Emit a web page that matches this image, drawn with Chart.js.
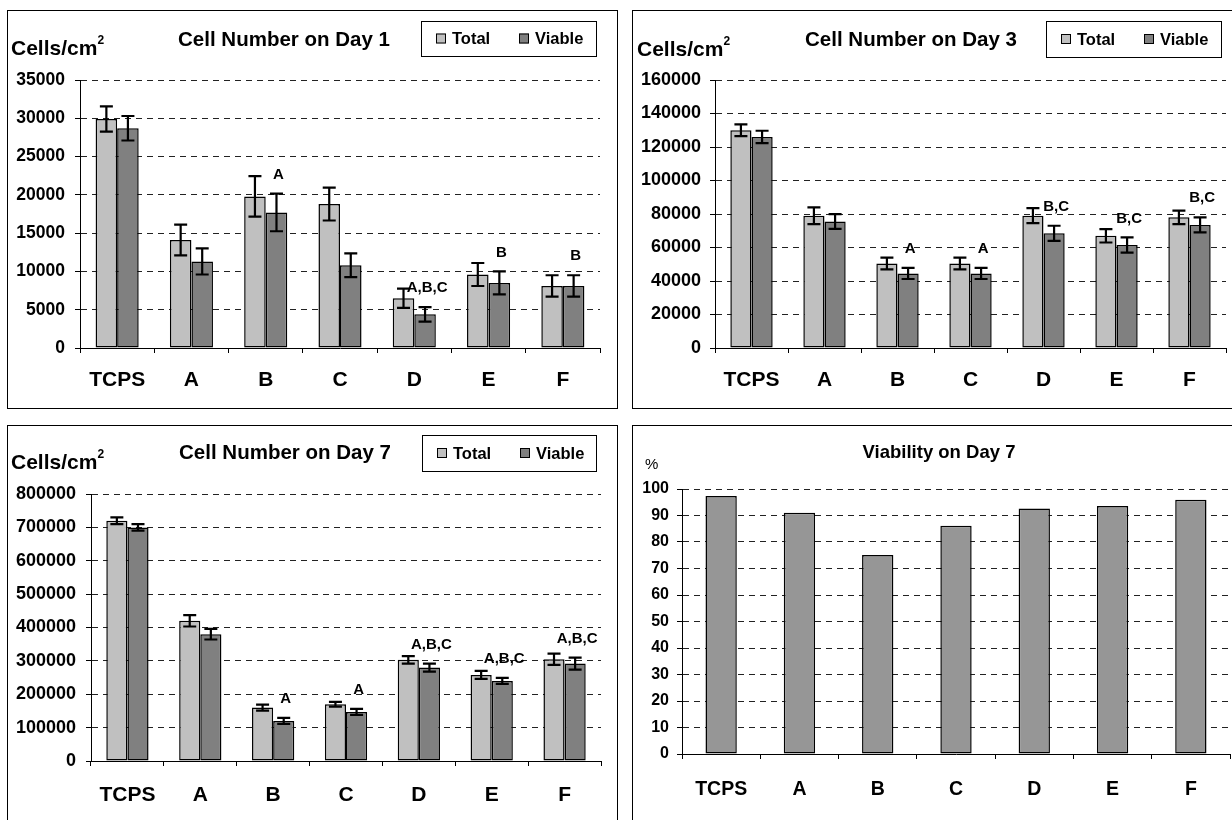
<!DOCTYPE html>
<html>
<head>
<meta charset="utf-8">
<script src="https://cdn.jsdelivr.net/npm/chart.js@4.4.0/dist/chart.umd.min.js"></script>
<style>
html, body { margin: 0; padding: 0; background: #fff; overflow: hidden; }
body { width: 1232px; height: 820px; position: relative; }
.panel { position: absolute; border: 1px solid #000; background: #fff; overflow: hidden; }
.panel canvas { position: absolute; left: 0; top: 0; }
</style>
</head>
<body>
<div class="panel" style="left:7px;top:10px;width:609px;height:397px"><canvas id="c1" width="609" height="397"></canvas></div>
<div class="panel" style="left:632px;top:10px;width:610px;height:397px"><canvas id="c2" width="610" height="397"></canvas></div>
<div class="panel" style="left:7px;top:425px;width:609px;height:418px"><canvas id="c3" width="609" height="418"></canvas></div>
<div class="panel" style="left:632px;top:425px;width:610px;height:418px"><canvas id="c4" width="610" height="418"></canvas></div>
<script>
// groups on the x axis
var groups = ['TCPS', 'A', 'B', 'C', 'D', 'E', 'F'];

// day 1
var day1Total = [29900, 14100, 19800, 18800, 6500, 9600, 8100];
var day1TotalErr = [1650, 2000, 2650, 2150, 1250, 1500, 1400];
var day1Viable = [28700, 11300, 17700, 10800, 4400, 8500, 8100];
var day1ViableErr = [1600, 1700, 2450, 1550, 950, 1500, 1400];
var day1Sig = ['', '', 'A', '', 'A,B,C', 'B', 'B'];

// day 3
var day3Total = [130000, 79000, 50500, 50500, 79000, 67000, 78000];
var day3TotalErr = [3500, 5000, 3500, 3500, 4500, 4000, 4000];
var day3Viable = [126000, 75500, 44500, 44500, 68500, 61500, 73500];
var day3ViableErr = [3700, 4400, 3300, 3300, 4500, 4500, 4500];
var day3Sig = ['', '', 'A', 'A', 'B,C', 'B,C', 'B,C'];

// day 7
var day7Total = [720000, 420000, 160000, 170000, 303000, 258000, 305000];
var day7TotalErr = [10000, 17000, 9000, 7000, 11000, 12000, 17000];
var day7Viable = [700000, 380000, 120000, 147000, 280000, 240000, 292000];
var day7ViableErr = [10000, 16000, 9000, 9000, 12000, 9000, 18000];
var day7Sig = ['', '', 'A', 'A', 'A,B,C', 'A,B,C', 'A,B,C'];

// viability on day 7 (%)
var viability7 = [97.4, 91.0, 75.1, 86.1, 92.6, 93.6, 95.9];

var FONT = '"Liberation Sans", Arial, sans-serif';
var TOTAL_COL = '#c0c0c0', VIABLE_COL = '#808080', VIAB_COL = '#969696';

Chart.defaults.font.family = FONT;
Chart.defaults.color = '#000';

// error bars + significance letters
var errorBars = {
    id: 'errorBars',
    afterDatasetsDraw: function(chart) {
        var ctx = chart.ctx, y = chart.scales.y;
        chart.data.datasets.forEach(function(ds, i) {
            if (!ds.errors) return;
            var meta = chart.getDatasetMeta(i);
            meta.data.forEach(function(bar, j) {
                var v = ds.data[j], e = ds.errors[j];
                var top = y.getPixelForValue(v + e), bot = y.getPixelForValue(v - e);
                ctx.save();
                ctx.strokeStyle = '#000';
                ctx.lineWidth = 2.2;
                ctx.beginPath();
                ctx.moveTo(bar.x, top); ctx.lineTo(bar.x, bot);
                ctx.moveTo(bar.x - 6.5, top); ctx.lineTo(bar.x + 6.5, top);
                ctx.moveTo(bar.x - 6.5, bot); ctx.lineTo(bar.x + 6.5, bot);
                ctx.stroke();
                if (ds.sig && ds.sig[j]) {
                    ctx.font = 'bold 15px ' + FONT;
                    ctx.textAlign = 'center';
                    ctx.textBaseline = 'middle';
                    ctx.fillStyle = '#000';
                    ctx.fillText(ds.sig[j], bar.x + 2, top - 19);
                }
                ctx.restore();
            });
        });
    }
};

// title, unit label and boxed legend
var decor = {
    id: 'decor',
    afterDraw: function(chart, args, o) {
        var ctx = chart.ctx;
        ctx.save();
        ctx.fillStyle = '#000';
        ctx.textBaseline = 'middle';
        ctx.textAlign = 'center';
        ctx.font = 'bold ' + o.titleSize + 'px ' + FONT;
        ctx.fillText(o.title, o.titleX, o.titleY);

        ctx.textAlign = 'left';
        ctx.font = (o.unitBold ? 'bold ' : '') + o.unitSize + 'px ' + FONT;
        ctx.fillText(o.unit, o.unitX, o.unitY);
        if (o.unitSup) {
            var w = ctx.measureText(o.unit).width;
            ctx.font = 'bold 12px ' + FONT;
            ctx.fillText(o.unitSup, o.unitX + w, o.unitY - 8);
        }

        if (o.legend) {
            var L = o.legend;
            ctx.strokeStyle = '#000';
            ctx.lineWidth = 1;
            ctx.strokeRect(L.x + 0.5, L.y + 0.5, L.w, L.h);
            ctx.font = 'bold 16.5px ' + FONT;
            var cy = L.y + L.h / 2;
            chart.data.datasets.forEach(function(ds, i) {
                var sx = L.x + L.items[i];
                ctx.fillStyle = ds.backgroundColor;
                ctx.fillRect(sx, cy - 5, 10, 10);
                ctx.strokeRect(sx + 0.5, cy - 4.5, 9, 9);
                ctx.fillStyle = '#000';
                ctx.fillText(ds.label, sx + 16, cy + 1);
            });
        }
        ctx.restore();
    }
};

function makeChart(id, datasets, yMax, yStep, g) {
    return new Chart(document.getElementById(id), {
        type: 'bar',
        data: { labels: groups, datasets: datasets },
        plugins: [errorBars, decor],
        options: {
            responsive: false,
            animation: false,
            devicePixelRatio: 1,
            layout: { padding: { left: 0, top: g.top, right: g.right, bottom: 0 } },
            datasets: { bar: { categoryPercentage: g.cat, barPercentage: g.bar } },
            plugins: {
                legend: { display: false },
                title: { display: false },
                tooltip: { enabled: false },
                decor: g.decor
            },
            scales: {
                x: {
                    grid: { offset: true, drawOnChartArea: false, drawTicks: true, tickLength: 5, color: '#000', lineWidth: 1 },
                    border: { display: true, color: '#000', width: 1 },
                    ticks: { color: '#000', autoSkip: false, maxRotation: 0, padding: g.xPad, font: { size: g.xFont, weight: 'bold' } },
                    afterFit: function(s) { s.height = g.xh; }
                },
                y: {
                    min: 0,
                    max: yMax,
                    grid: { color: '#222', lineWidth: 1, drawTicks: true, tickLength: 5, tickColor: '#000' },
                    border: { display: true, color: '#000', width: 1, dash: [6, 5] },
                    ticks: {
                        stepSize: yStep, color: '#000', padding: g.yPad,
                        font: { size: g.yFont, weight: 'bold' },
                        callback: function(v) { return String(v); }
                    },
                    afterFit: function(s) { s.width = g.yw; }
                }
            }
        }
    });
}

function barSet(label, values, errs, sig, colour) {
    return { label: label, data: values, errors: errs, sig: sig, backgroundColor: colour,
             borderColor: '#000', borderWidth: 1.5, borderSkipped: false };
}

function pair(total, totalErr, viable, viableErr, sig) {
    return [
        barSet('Total', total, totalErr, null, TOTAL_COL),
        barSet('Viable', viable, viableErr, sig, VIABLE_COL)
    ];
}

makeChart('c1', pair(day1Total, day1TotalErr, day1Viable, day1ViableErr, day1Sig), 35000, 5000, {
    top: 69, right: 17, yw: 72, xh: 60, xPad: 15, yPad: 10, yFont: 17.5, xFont: 21, cat: 0.58, bar: 1,
    decor: { title: 'Cell Number on Day 1', titleSize: 20.5, titleX: 284 - 8, titleY: 29,
             unit: 'Cells/cm', unitSup: '2', unitBold: true, unitSize: 21, unitX: 3, unitY: 38,
             legend: { x: 413, y: 10, w: 175, h: 35, items: [15, 98] } }
});

makeChart('c2', pair(day3Total, day3TotalErr, day3Viable, day3ViableErr, day3Sig), 160000, 20000, {
    top: 69, right: 17, yw: 82, xh: 60, xPad: 15, yPad: 9, yFont: 18, xFont: 21, cat: 0.58, bar: 1,
    decor: { title: 'Cell Number on Day 3', titleSize: 20.5, titleX: 278, titleY: 29,
             unit: 'Cells/cm', unitSup: '2', unitBold: true, unitSize: 21, unitX: 4, unitY: 39,
             legend: { x: 413, y: 10, w: 175, h: 36, items: [15, 98] } }
});

makeChart('c3', pair(day7Total, day7TotalErr, day7Viable, day7ViableErr, day7Sig), 800000, 100000, {
    top: 68, right: 16, yw: 83, xh: 83, xPad: 17, yPad: 10, yFont: 18, xFont: 21, cat: 0.58, bar: 1,
    decor: { title: 'Cell Number on Day 7', titleSize: 20.5, titleX: 277, titleY: 27,
             unit: 'Cells/cm', unitSup: '2', unitBold: true, unitSize: 21, unitX: 3, unitY: 37,
             legend: { x: 414, y: 9, w: 174, h: 36, items: [15, 98] } }
});

makeChart('c4', [barSet('Viability', viability7, null, null, VIAB_COL)], 100, 10, {
    top: 63, right: 13, yw: 49, xh: 90, xPad: 19, yPad: 8, yFont: 16, xFont: 19.5, cat: 1, bar: 0.4,
    decor: { title: 'Viability on Day 7', titleSize: 18.5, titleX: 306, titleY: 27,
             unit: '%', unitBold: false, unitSize: 15, unitX: 12, unitY: 39 }
});
</script>
</body>
</html>
